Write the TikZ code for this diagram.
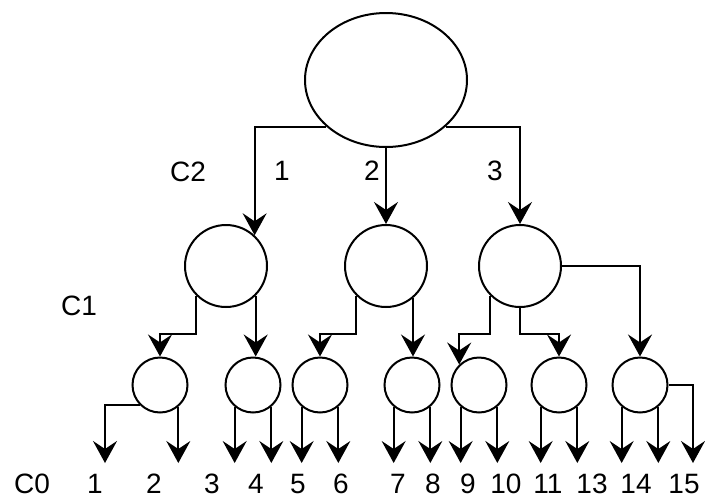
\documentclass[tikz,border=0pt]{standalone}
\usepackage{fontspec}
\setmainfont{Liberation Sans}
\usetikzlibrary{arrows.meta,shapes.geometric}

\begin{document}
\begin{tikzpicture}[x=1pt, y=-1pt, line width=2pt,
        arr/.style={-{Stealth[length=22pt,width=24pt,inset=8pt]}},
        big/.style={draw, circle, minimum size=82pt, inner sep=0pt},
        small/.style={draw, circle, minimum size=55pt, inner sep=0pt},
        lbl/.style={font=\fontsize{28}{30}\selectfont, inner sep=0pt}]
    \useasboundingbox (0,0) rectangle (705,499);
    % levels
    \node[draw, ellipse, minimum width=162pt, minimum height=134pt, inner sep=0pt] (root) at (386,80) {};
    \node[big] (A) at (226,266) {};
    \node[big] (B) at (386,266) {};
    \node[big] (C) at (520,266) {};
    \foreach \n/\x in {1/160, 2/253, 3/320, 4/412, 5/479, 6/559, 7/640}
        \node[small] (L\n) at (\x,385) {};
    % root to C1
    \draw[arr] (root.218) -| (A.47);
    \draw[arr] (root.south) -- (B.north);
    \draw[arr] (root.-38) -| (C);
    % C1 to C0
    \draw[arr] (A.-135) -- ++(0,38) -| (L1);
    \draw[arr] (A.-45) -- (A.-45 |- L2.north);
    \draw[arr] (B.-135) -- ++(0,38) -| (L3);
    \draw[arr] (B.-50) -- (B.-50 |- L4.north);
    \draw[arr] (C.-135) -- ++(0,38) -| (L5.134);
    \draw[arr] (C.south) -- ++(0,26) -| (L6);
    \draw[arr] (C.east) -| (L7);
    % outputs
    \coordinate (base) at (0,463);
    \coordinate (out1) at (105,463);
    \coordinate (out15) at (693,463);
    \draw[arr] (L1.-136) -| (out1);
    \draw[arr] (L1.-50) -- (L1.-50 |- base);
    \foreach \n in {2,...,7} {
        \draw[arr] (L\n.-130) -- (L\n.-130 |- base);
        \draw[arr] (L\n.-50) -- (L\n.-50 |- base);
    }
    \draw[arr] (L7.east) -| (out15);
    % labels
    \node[lbl] (c2) at (188,172) {C2};
    \node[lbl] (b1) at (282,171) {1};
    \node[lbl] (b2) at (372,171) {2};
    \node[lbl] (b3) at (495,171) {3};
    \node[lbl] (c1) at (79,306) {C1};
    \node[lbl] (c0) at (32,484) {C0};
    \foreach \t/\x in {1/95, 2/154, 3/212, 4/256, 5/298, 6/341, 7/398, 8/433,
            9/468, 10/506, 11/548, 13/592, 14/636, 15/684}
        \node[lbl] (n\t) at (\x,484) {\t};
\end{tikzpicture}
\end{document}
